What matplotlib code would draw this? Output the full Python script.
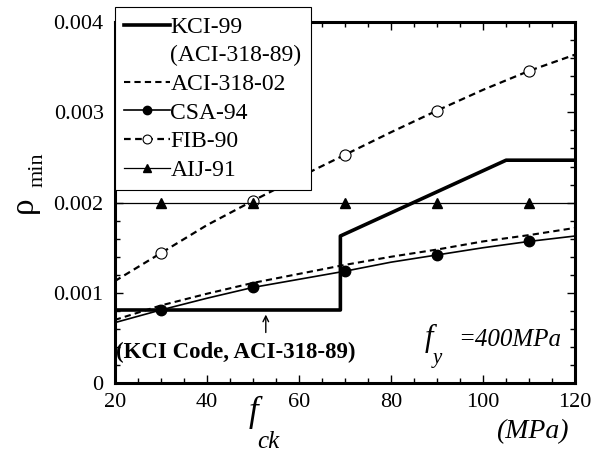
import numpy as np
import matplotlib.pyplot as plt
from matplotlib.ticker import MultipleLocator

plt.rcParams['font.family'] = ['Liberation Serif', 'DejaVu Serif']

# KCI-99 (ACI-318-89): step then linear rise then plateau
kci_fck = [20, 69, 69, 105, 120]
kci_rho = [0.00081, 0.00081, 0.00163, 0.00247, 0.00247]

# ACI-318-02
aci_fck = [20, 30, 40, 50, 60, 70, 80, 90, 100, 110, 120]
aci_rho = [0.00070, 0.00086, 0.00099, 0.00111, 0.00121, 0.00131,
           0.00140, 0.00148, 0.00157, 0.00164, 0.00172]

# CSA-94
csa_fck = [20, 30, 40, 50, 60, 70, 80, 90, 100, 110, 120]
csa_rho = [0.00067, 0.00081, 0.00094, 0.00106, 0.00115, 0.00124,
           0.00134, 0.00142, 0.00150, 0.00157, 0.00163]

# FIB-90
fib_fck = [20, 30, 40, 50, 60, 70, 80, 90, 100, 110, 120]
fib_rho = [0.00113, 0.00144, 0.00175, 0.00202, 0.00228, 0.00253,
           0.00278, 0.00302, 0.00325, 0.00346, 0.00364]

# AIJ-91
aij_fck = [20, 30, 50, 70, 90, 110, 120]
aij_rho = [0.0020, 0.0020, 0.0020, 0.0020, 0.0020, 0.0020, 0.0020]

marker_fck = [30, 50, 70, 90, 110]

yticks = [0, 0.001, 0.002, 0.003, 0.004]
ytick_labels = ['0', '0.001', '0.002', '0.003', '0.004']

fig = plt.figure(figsize=(6.01, 4.61), dpi=100)
ax = fig.add_axes([0.191, 0.169, 0.766, 0.783])

ax.plot(kci_fck, kci_rho, color='black', lw=2.6, label='KCI-99')
# second line of the KCI-99 legend entry, no handle
ax.plot([], [], color='none', label='(ACI-318-89)')
ax.plot(aci_fck, aci_rho, color='black', lw=1.5, ls=(0, (3, 2)), label='ACI-318-02')
csa_idx = [csa_fck.index(v) for v in marker_fck]
ax.plot(csa_fck, csa_rho, color='black', lw=1.2, marker='o', ms=7.5,
        markevery=csa_idx, label='CSA-94')
fib_idx = [fib_fck.index(v) for v in marker_fck]
ax.plot(fib_fck, fib_rho, color='black', lw=1.6, ls=(0, (3, 2)), marker='o', ms=8,
        mfc='white', mew=0.8, markevery=fib_idx, label='FIB-90')
aij_idx = [aij_fck.index(v) for v in marker_fck]
ax.plot(aij_fck, aij_rho, color='black', lw=0.9, marker='^', ms=7,
        markevery=aij_idx, label='AIJ-91')

ax.set_xlim(20, 120)
ax.set_ylim(0, 0.004)
ax.xaxis.set_major_locator(MultipleLocator(20))
ax.xaxis.set_minor_locator(MultipleLocator(5))
ax.set_yticks(yticks, ytick_labels)
ax.yaxis.set_minor_locator(MultipleLocator(0.0002))
ax.tick_params(which='both', direction='in', top=True, right=True, labelsize=16, width=1.0)
ax.tick_params(which='major', length=6)
ax.tick_params(axis='y', which='major', pad=8)
ax.tick_params(axis='x', which='major', pad=7)
ax.tick_params(which='minor', length=3.5)
for s in ax.spines.values():
    s.set_linewidth(2.2)

leg = ax.legend(loc='upper left', bbox_to_anchor=(0.191, 0.985), bbox_transform=fig.transFigure,
                fontsize=17, frameon=True, fancybox=False, edgecolor='black',
                framealpha=1, handlelength=1.95, handletextpad=0.0, markerscale=0.8,
                labelspacing=0.3, borderpad=0.4, borderaxespad=0)
leg.get_frame().set_linewidth(0.8)

ax.annotate('', xy=(52.8, 0.00079), xytext=(52.8, 0.00053),
            arrowprops=dict(arrowstyle='->', color='black', lw=1.0))
ax.text(20.2, 0.00034, '(KCI Code, ACI-318-89)', fontsize=16.5, fontweight='bold',
        va='center', ha='left')

# f_y annotation
ax.text(87.2, (383 - 338) / 90.25 * 0.001, 'f', fontsize=22, style='italic',
        va='center', ha='left')
ax.text(89.0, (383 - 358) / 90.25 * 0.001, 'y', fontsize=15, style='italic',
        va='center', ha='left')
ax.text(94.6, 0.00048, '=400MPa', fontsize=18, style='italic', va='center', ha='left')

# y label: rho with "min" subscript, rotated
fig.text(0.040, 1 - 205 / 461, 'ρ', fontsize=24, rotation=90, ha='center', va='center')
fig.text(0.064, 1 - 170 / 461, 'min', fontsize=16, rotation=90, ha='center', va='center')

# x label: f_ck and units
fig.text(253 / 601, 1 - 412 / 461, 'f', fontsize=25, style='italic', ha='center', va='center')
fig.text(268 / 601, 1 - 442 / 461, 'ck', fontsize=18, style='italic', ha='center', va='center')
fig.text(0.885, 1 - 432 / 461, '(MPa)', fontsize=20, style='italic', ha='center', va='center')

fig.savefig('out.png', dpi=100)
